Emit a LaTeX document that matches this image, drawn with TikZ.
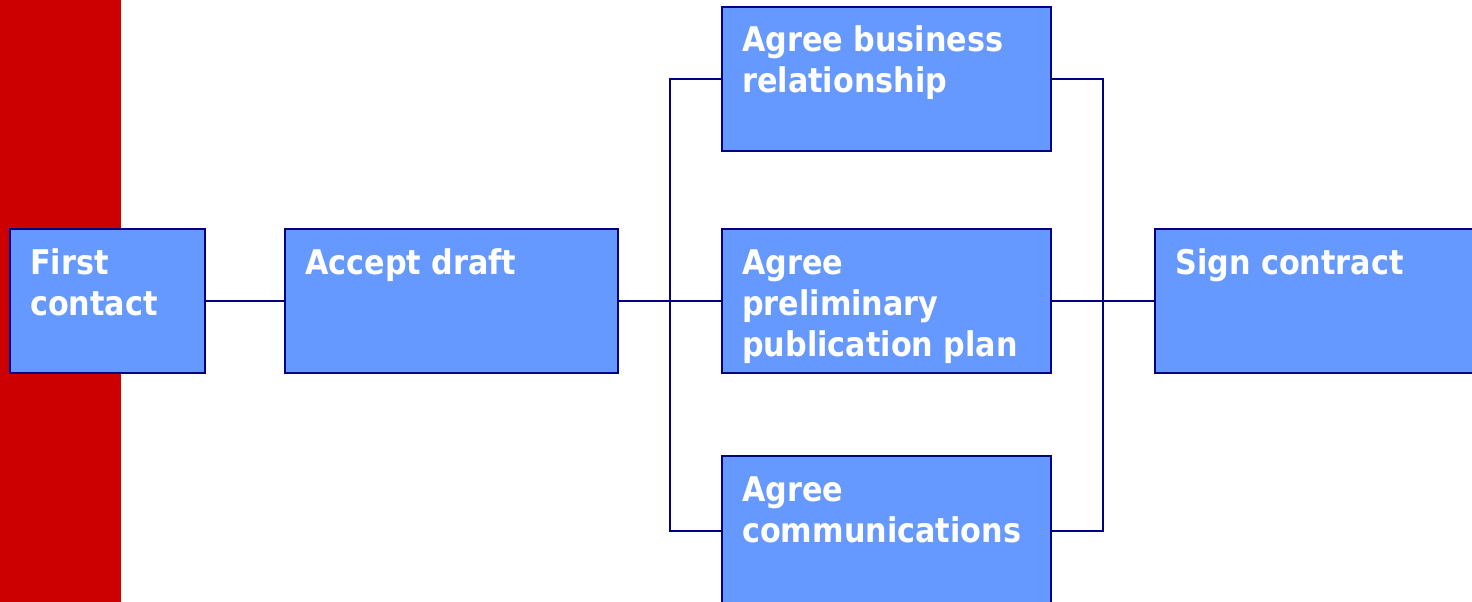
\documentclass[tikz,border=0pt]{standalone}
\usepackage{fontspec}
\setmainfont{DejaVu Sans}[FakeStretch=0.89]
\definecolor{barred}{HTML}{CC0000}
\definecolor{boxfill}{HTML}{6699FF}
\definecolor{navy}{HTML}{000080}
\begin{document}
\begin{tikzpicture}[x=1pt,y=-1pt,
  stepbox/.style={draw=navy,fill=boxfill,line width=2pt,rectangle,inner sep=0pt},
  boxtext/.style={anchor=base west,inner sep=0pt,text=white,font=\bfseries\fontsize{34}{41}\selectfont},
  conn/.style={draw=navy,line width=2pt}]
\useasboundingbox (0,0) rectangle (1472,602);
\clip (0,0) rectangle (1472,602);
\fill[barred] (0,0) rectangle (121,602);
% boxes
\node[stepbox,minimum width=195pt,minimum height=144pt] (fc) at (107.5,301) {};
\node[stepbox,minimum width=333pt,minimum height=144pt] (ad) at (451.5,301) {};
\node[stepbox,minimum width=329pt,minimum height=144pt] (ab) at (886.5,79) {};
\node[stepbox,minimum width=329pt,minimum height=144pt] (ap) at (886.5,301) {};
\node[stepbox,minimum width=329pt,minimum height=150pt] (ac) at (886.5,531) {};
\node[stepbox,minimum width=330pt,minimum height=144pt] (sc) at (1320,301) {};
% texts
\node[boxtext] (tfc) at ([shift={(21,46)}]fc.north west) {\parbox[t]{300pt}{\raggedright First\\contact}};
\node[boxtext] (tad) at ([shift={(21,46)}]ad.north west) {\parbox[t]{300pt}{\raggedright Accept draft}};
\node[boxtext] (tab) at ([shift={(21,46)}]ab.north west) {\parbox[t]{320pt}{\raggedright Agree business\\relationship}};
\node[boxtext] (tap) at ([shift={(21,46)}]ap.north west) {\parbox[t]{320pt}{\raggedright Agree\\preliminary\\publication plan}};
\node[boxtext] (tac) at ([shift={(21,46)}]ac.north west) {\parbox[t]{320pt}{\raggedright Agree\\communications}};
\node[boxtext] (tsc) at ([shift={(21,46)}]sc.north west) {\parbox[t]{300pt}{\raggedright Sign contract}};
% bus coordinates
\coordinate (lb) at (670,301);
\coordinate (rb) at (1103,301);
% connectors
\draw[conn] (fc.east) -- (ad.west);
\draw[conn] (ad.east) -- (ap.west);
\draw[conn] (ap.east) -- (sc.west);
\draw[conn] (ab.west) -| (lb) |- (ac.west);
\draw[conn] (ab.east) -| (rb) |- (ac.east);
\end{tikzpicture}
\end{document}
